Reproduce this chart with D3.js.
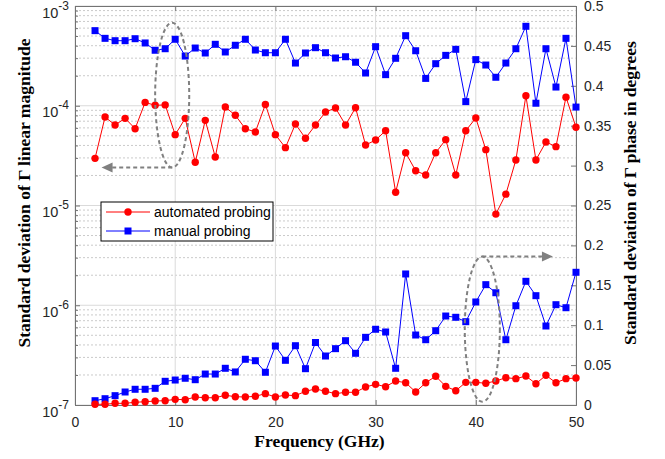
<!DOCTYPE html>
<html>
<head>
<meta charset="utf-8">
<script src="https://cdn.jsdelivr.net/npm/d3@7"></script>
<style>
  body { margin: 0; background: #fff; }
  text { font-family: Arial, "Liberation Sans", sans-serif; }
</style>
</head>
<body>
<div id="chart"></div>
<script>
const freq = [2, 3, 4, 5, 6, 7, 8, 9, 10, 11, 12, 13, 14, 15, 16, 17, 18, 19, 20, 21, 22, 23, 24, 25, 26,
  27, 28, 29, 30, 31, 32, 33, 34, 35, 36, 37, 38, 39, 40, 41, 42, 43, 44, 45, 46, 47, 48, 49, 50];

// standard deviation of linear magnitude (left, log axis)
const magAuto = [2.97e-5, 7.71e-5, 6.41e-5, 7.48e-5, 5.89e-5, 1.08e-4, 1.01e-4, 1.02e-4, 5.13e-5, 7.48e-5,
  2.71e-5, 7.14e-5, 3.06e-5, 9.72e-5, 8.02e-5, 5.89e-5, 5.46e-5, 1.03e-4, 5.13e-5, 3.80e-5,
  6.56e-5, 4.72e-5, 6.41e-5, 8.66e-5, 9.49e-5, 6.41e-5, 9.56e-5, 4.04e-5, 4.53e-5, 5.62e-5,
  1.36e-5, 3.38e-5, 2.23e-5, 2.02e-5, 3.38e-5, 4.57e-5, 2.02e-5, 5.62e-5, 7.54e-5, 3.63e-5,
  8.2e-6, 1.30e-5, 2.86e-5, 1.26e-4, 2.86e-5, 4.33e-5, 3.89e-5, 1.22e-4, 6.08e-5];
const magManual = [5.66e-4, 4.74e-4, 4.49e-4, 4.49e-4, 4.70e-4, 4.26e-4, 3.60e-4, 3.73e-4, 4.64e-4, 3.15e-4,
  3.79e-4, 3.38e-4, 4.13e-4, 3.46e-4, 4.04e-4, 4.64e-4, 3.62e-4, 3.40e-4, 3.40e-4, 4.64e-4,
  2.68e-4, 3.38e-4, 3.82e-4, 3.40e-4, 3.01e-4, 3.10e-4, 2.73e-4, 2.13e-4, 3.91e-4, 2.05e-4,
  2.99e-4, 5.04e-4, 3.56e-4, 1.88e-4, 2.64e-4, 3.20e-4, 3.68e-4, 1.10e-4, 2.90e-4, 2.56e-4,
  1.93e-4, 2.68e-4, 3.73e-4, 6.26e-4, 1.06e-4, 3.73e-4, 1.54e-4, 4.74e-4, 0.97e-4];

// standard deviation of phase in degrees (right, linear axis)
const phaseAuto = [0.0009, 0.0009, 0.0021, 0.0021, 0.0034, 0.0041, 0.0050, 0.0054, 0.0071, 0.0066,
  0.0100, 0.0091, 0.0091, 0.0122, 0.0104, 0.0100, 0.0109, 0.0142, 0.0100, 0.0125,
  0.0117, 0.0172, 0.0201, 0.0172, 0.0142, 0.0159, 0.0159, 0.0226, 0.0259, 0.0229,
  0.0301, 0.0279, 0.0163, 0.0279, 0.0360, 0.0234, 0.0179, 0.0284, 0.0284, 0.0272,
  0.0301, 0.0342, 0.0330, 0.0363, 0.0267, 0.0372, 0.0279, 0.0330, 0.0338];
const phaseManual = [0.0054, 0.0079, 0.0117, 0.0163, 0.0197, 0.0197, 0.0209, 0.0297, 0.0313, 0.0335,
  0.0317, 0.0388, 0.0388, 0.0460, 0.0414, 0.0573, 0.0555, 0.0410, 0.0739, 0.0560,
  0.0743, 0.0455, 0.0783, 0.0614, 0.0706, 0.0806, 0.0648, 0.0848, 0.0949, 0.0915,
  0.0460, 0.1642, 0.0877, 0.0818, 0.0931, 0.1115, 0.1099, 0.1044, 0.1291, 0.1508,
  0.1407, 0.0818, 0.1244, 0.1550, 0.1370, 0.0990, 0.1257, 0.1219, 0.1663];

const xTicks = [0, 10, 20, 30, 40, 50];
const magTicks = [1e-7, 1e-6, 1e-5, 1e-4, 1e-3];
const phaseTicks = [0, 0.05, 0.1, 0.15, 0.2, 0.25, 0.3, 0.35, 0.4, 0.45, 0.5];
const seriesNames = ["automated probing", "manual probing"];

// annotation ellipses: [freq min, freq max] and [value top, value bottom]
const magMarkFreq = [8.0, 11.4];
const magMarkVal = [6.8e-4, 2.4e-5];
const magArrowTo = 2.65;
const phaseMarkFreq = [38.9, 42.4];
const phaseMarkVal = [0.186, 0.004];
const phaseArrowTo = 47.7;

const width = 665, height = 459;
const margin = { top: 6, right: 89, bottom: 54, left: 75 };
const axisColor = "#737373";
const red = "#ff0000", blue = "#0000ff";

const svg = d3.select("#chart").append("svg")
  .attr("width", width).attr("height", height);

const x = d3.scaleLinear().domain([0, 50]).range([margin.left, width - margin.right]);
const yL = d3.scaleLog().domain([1e-7, 1e-3]).range([height - margin.bottom, margin.top]);
const yR = d3.scaleLinear().domain([0, 0.5]).range([height - margin.bottom, margin.top]);

const x0 = x.range()[0], x1 = x.range()[1];
const yb = yL.range()[0], yt = yL.range()[1];

// grid
const grid = svg.append("g");
const minor = yL.ticks().filter(v => !magTicks.includes(v) && Math.abs(Math.log10(v) % 1) > 1e-9);
grid.selectAll(".minor").data(minor).enter().append("line")
  .attr("x1", x0).attr("x2", x1)
  .attr("y1", d => yL(d)).attr("y2", d => yL(d))
  .attr("stroke", "#bdbdbd").attr("stroke-width", 0.8).attr("stroke-dasharray", "2,2");
grid.selectAll(".major").data(magTicks).enter().append("line")
  .attr("x1", x0).attr("x2", x1)
  .attr("y1", d => yL(d)).attr("y2", d => yL(d))
  .attr("stroke", "#dadada").attr("stroke-width", 1);
grid.selectAll(".vx").data(xTicks).enter().append("line")
  .attr("x1", d => x(d)).attr("x2", d => x(d))
  .attr("y1", yt).attr("y2", yb)
  .attr("stroke", "#dadada").attr("stroke-width", 1);

// axes
svg.append("g").attr("transform", `translate(0,${yb})`)
  .call(d3.axisBottom(x).tickValues(xTicks).tickSize(-5).tickPadding(12).tickFormat(d3.format("d")))
  .call(g => g.select(".domain").attr("stroke", axisColor))
  .call(g => g.selectAll(".tick line").attr("stroke", axisColor))
  .call(g => g.selectAll("text").attr("font-size", 14).attr("fill", "#262626")
    .style("font-family", "Arial, 'Liberation Sans', sans-serif"));
svg.append("g").attr("transform", `translate(0,${yt})`)
  .call(d3.axisTop(x).tickValues(xTicks).tickSize(-5).tickFormat(""))
  .call(g => g.select(".domain").attr("stroke", axisColor))
  .call(g => g.selectAll(".tick line").attr("stroke", axisColor));

const leftAxis = svg.append("g").attr("transform", `translate(${x0},0)`)
  .call(d3.axisLeft(yL).tickValues(yL.ticks()).tickSize(-3).tickFormat(""))
  .call(g => g.select(".domain").attr("stroke", axisColor))
  .call(g => g.selectAll(".tick line").attr("stroke", axisColor));
leftAxis.selectAll(".tick line").filter(d => magTicks.includes(d)).attr("x2", 5);

const lbl = svg.append("g");
magTicks.forEach(v => {
  const t = lbl.append("text")
    .attr("x", x0 - 6).attr("y", yL(v) + 11.5)
    .attr("text-anchor", "end").attr("font-size", 14.5).attr("fill", "#262626");
  t.append("tspan").text("10");
  t.append("tspan").attr("dy", -8).attr("font-size", 12).text(Math.round(Math.log10(v)));
});

svg.append("g").attr("transform", `translate(${x1},0)`)
  .call(d3.axisRight(yR).tickValues(phaseTicks).tickSize(-5).tickPadding(8)
    .tickFormat(d => d3.format("~g")(d)))
  .call(g => g.select(".domain").attr("stroke", axisColor))
  .call(g => g.selectAll(".tick line").attr("stroke", axisColor))
  .call(g => g.selectAll("text").attr("font-size", 14).attr("fill", "#262626")
    .style("font-family", "Arial, 'Liberation Sans', sans-serif"));

// axis titles
const serif = "'Times New Roman', 'Liberation Serif', serif";
svg.append("text").attr("x", (x0 + x1) / 2 - 6).attr("y", 447)
  .attr("text-anchor", "middle").attr("font-size", 17.5).attr("font-weight", "bold")
  .style("font-family", serif).attr("fill", "#000").text("Frequency (GHz)");
svg.append("text").attr("transform", "translate(30,193) rotate(-90)")
  .attr("text-anchor", "middle").attr("font-size", 17.5).attr("font-weight", "bold")
  .style("font-family", serif).attr("fill", "#000")
  .text("Standard deviation of \u0393 linear magnitude");
svg.append("text").attr("transform", "translate(636,193) rotate(-90)")
  .attr("text-anchor", "middle").attr("font-size", 17.5).attr("font-weight", "bold")
  .style("font-family", serif).attr("fill", "#000")
  .text("Standard deviation of \u0393 phase in degrees");

// series
function drawSeries(values, y, color, shape) {
  const g = svg.append("g");
  const line = d3.line().x((d, i) => x(freq[i])).y(d => y(d));
  g.append("path").datum(values).attr("d", line)
    .attr("fill", "none").attr("stroke", color).attr("stroke-width", 1);
  if (shape === "circle") {
    g.selectAll("circle").data(values).enter().append("circle")
      .attr("cx", (d, i) => x(freq[i])).attr("cy", d => y(d)).attr("r", 3.7)
      .attr("fill", color);
  } else {
    g.selectAll("rect").data(values).enter().append("rect")
      .attr("x", (d, i) => x(freq[i]) - 3.5).attr("y", d => y(d) - 3.5)
      .attr("width", 7).attr("height", 7).attr("fill", color);
  }
}
drawSeries(magAuto, yL, red, "circle");
drawSeries(magManual, yL, blue, "square");
drawSeries(phaseManual, yR, blue, "square");
drawSeries(phaseAuto, yR, red, "circle");

// annotations
const annGray = "#808080";
function annotate(fr, vals, y, arrowTo, fromTop) {
  const cx = (x(fr[0]) + x(fr[1])) / 2, rx = (x(fr[1]) - x(fr[0])) / 2;
  const ytop = y(vals[0]), ybot = y(vals[1]);
  const cy = (ytop + ybot) / 2, ry = (ybot - ytop) / 2;
  svg.append("ellipse").attr("cx", cx).attr("cy", cy).attr("rx", rx).attr("ry", ry)
    .attr("fill", "none").attr("stroke", annGray).attr("stroke-width", 2)
    .attr("stroke-dasharray", "4,3");
  const ay = fromTop ? ytop : ybot;
  const tip = x(arrowTo);
  const dir = tip > cx ? 1 : -1;
  svg.append("line").attr("x1", cx).attr("x2", tip - dir * 10).attr("y1", ay).attr("y2", ay)
    .attr("stroke", annGray).attr("stroke-width", 2).attr("stroke-dasharray", "4,3");
  svg.append("path")
    .attr("d", `M${tip},${ay} L${tip - dir * 11},${ay - 5} L${tip - dir * 11},${ay + 5} Z`)
    .attr("fill", annGray);
}
annotate(magMarkFreq, magMarkVal, yL, magArrowTo, false);
annotate(phaseMarkFreq, phaseMarkVal, yR, phaseArrowTo, true);

// legend
const lg = svg.append("g").attr("transform", "translate(101,202)");
lg.append("rect").attr("width", 172).attr("height", 39)
  .attr("fill", "#fff").attr("stroke", "#000").attr("stroke-width", 1);
const legendColors = [red, blue];
seriesNames.forEach((name, i) => {
  const ly = 10 + i * 19;
  lg.append("line").attr("x1", 5).attr("x2", 49).attr("y1", ly).attr("y2", ly)
    .attr("stroke", legendColors[i]).attr("stroke-width", 1);
  if (i === 0) {
    lg.append("circle").attr("cx", 27).attr("cy", ly).attr("r", 3.7).attr("fill", red);
  } else {
    lg.append("rect").attr("x", 23.5).attr("y", ly - 3.5).attr("width", 7).attr("height", 7).attr("fill", blue);
  }
  lg.append("text").attr("x", 53).attr("y", ly + 5).attr("font-size", 14).attr("fill", "#000").text(name);
});
</script>
</body>
</html>
